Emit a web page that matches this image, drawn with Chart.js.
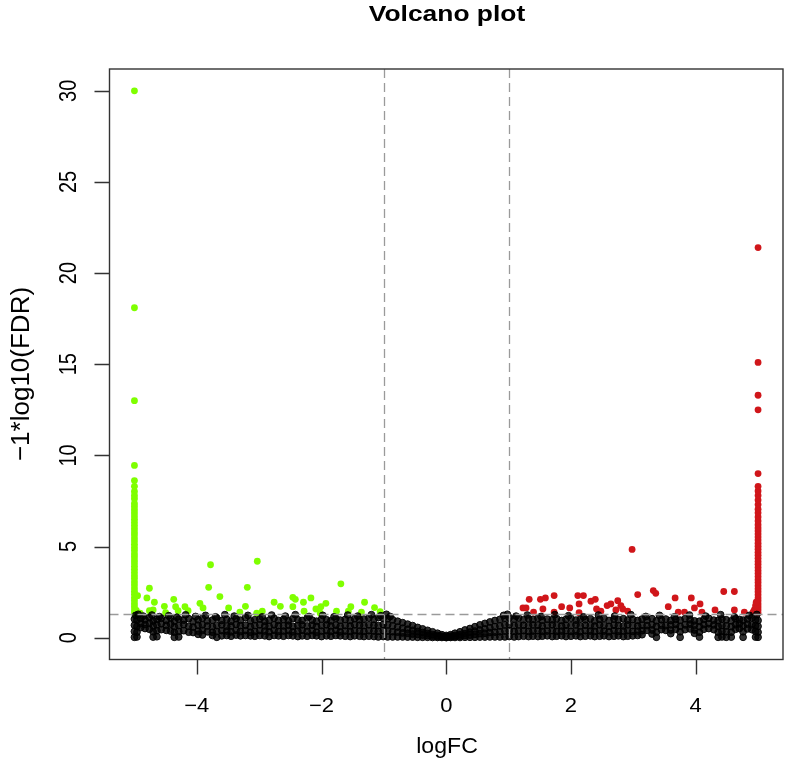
<!DOCTYPE html>
<html>
<head>
<meta charset="utf-8">
<title>Volcano plot</title>
<script src="https://cdn.jsdelivr.net/npm/chart.js@4.4.1/dist/chart.umd.min.js"></script>
<style>
  html, body { margin: 0; padding: 0; background: #ffffff; }
  #volcano { display: block; }
</style>
</head>
<body>
<canvas id="volcano" width="788" height="775"></canvas>
<script>
// --- data ------------------------------------------------------------------

// tick labels
const xTicks = [-4, -2, 0, 2, 4];
const yTicks = [0, 5, 10, 15, 20, 25, 30];

// cut-offs (|logFC| = 1, FDR = 0.05)
const fcCut = 1;
const fdrLine = 1.3;

// non-significant genes: one column of x, four layers of y (null = empty)
const nsX = [
  -5.00, -4.96, -4.90, -4.83, -4.76, -4.70, -4.64, -4.57, -4.49, -4.42, -4.36, -4.29, -4.21, -4.13,
  -4.06, -3.98, -3.91, -3.83, -3.75, -3.68, -3.60, -3.52, -3.45, -3.37, -3.30, -3.22, -3.14, -3.07,
  -2.99, -2.91, -2.84, -2.76, -2.69, -2.61, -2.53, -2.46, -2.38, -2.31, -2.23, -2.15, -2.08, -2.00,
  -1.92, -1.85, -1.77, -1.70, -1.62, -1.54, -1.47, -1.39, -1.32, -1.24, -1.16, -1.09, -1.01, -0.94,
  -0.86, -0.78, -0.70, -0.62, -0.54, -0.46, -0.38, -0.30, -0.22, -0.14, -0.07, 0.00,
  0.07, 0.14, 0.22, 0.30, 0.38, 0.46, 0.54, 0.62, 0.70, 0.78, 0.86,
  0.94, 1.01, 1.09, 1.16, 1.24, 1.32, 1.39, 1.47, 1.54, 1.62, 1.70, 1.77, 1.85, 1.92,
  2.00, 2.08, 2.15, 2.23, 2.31, 2.38, 2.46, 2.53, 2.61, 2.69, 2.76, 2.84, 2.91, 2.99,
  3.07, 3.14, 3.22, 3.30, 3.37, 3.45, 3.52, 3.60, 3.68, 3.75, 3.83, 3.91, 3.98, 4.06,
  4.13, 4.21, 4.29, 4.36, 4.42, 4.49, 4.57, 4.64, 4.70, 4.76, 4.83, 4.90, 4.96, 5.00
];
const nsLow = [
  0.02, 0.04, null, null, null, 0.03, 0.05, null, null, null, 0.02, 0.04, null, null,
  null, 0.18, 0.15, null, 0.12, 0.02, 0.10, 0.12, 0.08, 0.14, 0.10, 0.12, 0.10, 0.08,
  0.12, 0.10, 0.06, 0.12, 0.10, 0.08, 0.12, 0.10, 0.06, 0.10, 0.08, 0.12, 0.10, 0.06,
  0.10, 0.08, 0.12, 0.10, 0.08, 0.06, 0.10, 0.08, 0.06, 0.08, 0.06, 0.04, 0.06, 0.04,
  0.04, 0.04, 0.04, 0.03, 0.03, 0.02, 0.02, 0.02, 0.01, 0.01, 0.01, 0.00,
  0.01, 0.01, 0.01, 0.02, 0.02, 0.02, 0.03, 0.03, 0.04, 0.04, 0.04,
  0.04, 0.06, 0.04, 0.06, 0.08, 0.06, 0.08, 0.06, 0.08, 0.10, 0.06, 0.08, 0.10, 0.06,
  0.08, 0.10, 0.06, 0.08, 0.10, 0.06, 0.08, 0.10, 0.06, 0.08, 0.10, 0.06, 0.08, 0.10,
  0.12, 0.16, null, 0.20, 0.02, null, null, 0.22, null, 0.02, null, null, 0.24, 0.03,
  null, null, null, 0.02, 0.04, 0.02, 0.03, null, null, 0.02, null, null, 0.03, 0.02
];
const nsMid = [
  0.34, 0.30, 0.55, 0.50, 0.46, 0.32, 0.38, 0.44, 0.40, 0.36, 0.30, 0.34, 0.38, 0.30,
  0.28, 0.36, 0.40, 0.32, 0.30, 0.34, 0.38, 0.36, 0.32, 0.40, 0.34, 0.38, 0.30, 0.34,
  0.38, 0.36, 0.32, 0.40, 0.34, 0.36, 0.38, 0.32, 0.36, 0.40, 0.34, 0.38, 0.30, 0.36,
  0.38, 0.34, 0.40, 0.32, 0.36, 0.34, 0.38, 0.36, 0.34, 0.38, 0.36, 0.34, 0.38, 0.36,
  0.32, 0.30, 0.26, 0.24, 0.20, 0.18, 0.14, 0.12, 0.08, 0.06, 0.04, 0.02,
  0.04, 0.06, 0.08, 0.12, 0.14, 0.18, 0.22, 0.24, 0.28, 0.30, 0.32,
  0.36, 0.38, 0.34, 0.36, 0.38, 0.34, 0.36, 0.38, 0.34, 0.36, 0.38, 0.34, 0.36, 0.38,
  0.34, 0.36, 0.32, 0.38, 0.36, 0.34, 0.38, 0.36, 0.32, 0.38, 0.34, 0.36, 0.38, 0.34,
  0.36, 0.38, 0.40, 0.42, 0.30, 0.44, 0.40, 0.42, 0.46, 0.32, 0.44, 0.48, 0.42, 0.30,
  0.46, 0.50, 0.44, 0.30, 0.34, 0.32, 0.30, 0.46, 0.50, 0.32, 0.48, 0.44, 0.34, 0.30
];
const nsUpper = [
  0.68, 0.62, 0.78, 0.72, 0.80, 0.64, 0.70, 0.76, 0.68, 0.74, 0.60, 0.66, 0.72, 0.62,
  0.58, 0.68, 0.70, 0.64, 0.60, 0.66, 0.70, 0.62, 0.64, 0.72, 0.66, 0.68, 0.60, 0.66,
  0.70, 0.64, 0.62, 0.70, 0.66, 0.64, 0.68, 0.62, 0.66, 0.70, 0.64, 0.68, 0.62, 0.66,
  0.70, 0.64, 0.68, 0.62, 0.66, 0.64, 0.70, 0.68, 0.66, 0.70, 0.68, 0.66, 0.72, 0.70,
  0.64, 0.58, 0.52, 0.46, 0.40, 0.34, 0.28, 0.22, 0.16, 0.12, 0.08, 0.06,
  0.08, 0.12, 0.16, 0.22, 0.30, 0.36, 0.42, 0.48, 0.54, 0.60, 0.64,
  0.70, 0.72, 0.66, 0.70, 0.68, 0.66, 0.70, 0.68, 0.64, 0.68, 0.70, 0.66, 0.64, 0.68,
  0.66, 0.70, 0.64, 0.68, 0.66, 0.64, 0.70, 0.66, 0.62, 0.68, 0.66, 0.64, 0.70, 0.66,
  0.64, 0.68, 0.66, 0.70, 0.62, 0.68, 0.66, 0.70, 0.72, 0.62, 0.70, 0.74, 0.68, 0.60,
  0.72, 0.76, 0.70, 0.62, 0.66, 0.64, 0.60, 0.72, 0.76, 0.64, 0.74, 0.70, 0.66, 0.62
];
const nsTop = [
  1.02, 0.96, 1.05, 0.98, 1.10, 0.92, 1.00, 1.06, 0.94, 1.08, 0.90, 1.02, 0.96, 1.04,
  0.88, 0.98, 1.06, 0.92, 0.96, 1.08, 0.94, 1.00, 0.90, 1.04, 0.96, 1.10, 0.92, 0.98,
  1.02, 0.90, 0.96, 1.06, 0.94, 1.00, 0.92, 1.04, 0.98, 0.94, 1.08, 0.96, 0.90, 1.02,
  0.98, 0.92, 1.06, 0.96, 1.00, 0.94, 1.04, 0.98, 1.02, 1.08, 1.00, 1.10, 1.06, 1.04,
  0.98, 0.90, 0.82, 0.74, 0.66, 0.56, 0.48, 0.40, 0.32, 0.24, 0.16, 0.12,
  0.16, 0.24, 0.32, 0.42, 0.50, 0.60, 0.70, 0.78, 0.86, 0.94, 1.00,
  1.06, 1.10, 1.02, 1.08, 0.98, 1.04, 1.00, 1.06, 0.96, 1.02, 0.98, 1.04, 0.94, 1.00,
  1.06, 0.96, 1.02, 0.98, 1.04, 0.92, 1.00, 1.06, 0.94, 1.02, 0.98, 1.04, 0.96, 1.00,
  0.94, 1.02, 0.96, 1.04, 0.92, 0.98, 1.02, 0.94, 1.00, 0.96, 1.04, 0.98, 0.92, 0.90,
  1.00, 1.06, 0.96, 0.94, 1.02, 0.98, 0.92, 1.04, 1.00, 0.96, 1.02, 1.08, 0.98, 0.94
];
// stray non-significant genes just under the FDR line
const nsStrayX = [
  -4.98, -4.94, -4.86, -4.72, -4.60, -4.45, -4.32, -4.18, -4.02, -3.86, -3.70, -3.55, -3.40, -3.18,
  -2.95, -2.80, -2.58, -2.42, -2.20, -1.98, -1.80, -1.58, -1.42, -1.20, -1.05, -0.96, -0.90,
  0.92, 0.98, 1.12, 1.30, 1.52, 1.74, 1.96, 2.20, 2.44, 2.70, 2.96, 3.20, 3.42, 3.66, 3.90,
  4.16, 4.40, 4.62, 4.86, 4.98
];
const nsStrayY = [
  1.22, 1.28, 1.18, 1.24, 1.15, 1.20, 1.12, 1.25, 1.16, 1.22, 1.14, 1.26, 1.18, 1.22,
  1.14, 1.24, 1.18, 1.26, 1.16, 1.22, 1.14, 1.24, 1.18, 1.26, 1.20, 1.28, 1.16,
  1.22, 1.28, 1.18, 1.24, 1.16, 1.26, 1.20, 1.14, 1.24, 1.18, 1.26, 1.16, 1.22, 1.14, 1.24,
  1.18, 1.26, 1.14, 1.22, 1.27
];

// down-regulated (green)
const downX = [
  -5.00, -5.00, -5.00, -5.00, -5.00, -5.00, -5.00, -5.00, -5.00, -5.00, -5.00, -5.00, -5.00, -5.00, -5.00,
  -5.00, -5.00, -5.00, -5.00, -5.00, -5.00, -5.00, -5.00, -5.00, -5.00, -5.00, -5.00, -5.00, -5.00, -5.00,
  -5.00, -5.00, -5.00, -5.00, -5.00, -5.00, -5.00, -5.00, -5.00, -5.00, -5.00, -5.00, -5.00, -5.00, -5.00,
  -4.97, -4.95, -4.91, -4.80, -4.76, -4.76, -4.70, -4.68, -4.52, -4.50, -4.37, -4.34, -4.30, -4.19, -4.14,
  -3.95, -3.90, -3.81, -3.78, -3.63, -3.49, -3.31, -3.22, -3.19, -3.04, -3.03, -2.95, -2.76, -2.66,
  -2.46, -2.46, -2.42, -2.29, -2.28, -2.17, -2.09, -2.02, -2.01, -1.93, -1.76, -1.69, -1.57, -1.53,
  -1.36, -1.31, -1.15, -1.06
];
const downY = [
  1.35, 1.52, 1.70, 1.86, 2.04, 2.20, 2.38, 2.55, 2.72, 2.90, 3.06, 3.24, 3.40, 3.58, 3.75,
  3.92, 4.10, 4.26, 4.44, 4.60, 4.78, 4.95, 5.12, 5.30, 5.46, 5.64, 5.80, 5.98, 6.15, 6.32,
  6.50, 6.68, 6.85, 7.02, 7.20, 7.36, 7.62, 7.80, 8.02, 8.30, 8.62, 9.45, 13.0, 18.1, 30.0,
  1.50, 2.30, 1.34, 2.18, 2.71, 1.48, 1.52, 1.94, 1.72, 1.37, 2.10, 1.70, 1.48, 1.70, 1.48,
  1.88, 1.63, 2.76, 4.00, 2.25, 1.63, 1.40, 1.72, 2.76, 1.34, 4.19, 1.45, 1.94, 1.72,
  2.21, 1.70, 2.10, 1.94, 1.45, 2.18, 1.57, 1.34, 1.70, 1.88, 1.45, 2.95, 1.45, 1.70,
  1.40, 1.94, 1.65, 1.43
];

// up-regulated (red)
const upX = [
  5.00, 5.00, 5.00, 5.00, 5.00, 5.00, 5.00, 5.00, 5.00, 5.00, 5.00, 5.00, 5.00, 5.00, 5.00,
  5.00, 5.00, 5.00, 5.00, 5.00, 5.00, 5.00, 5.00, 5.00, 5.00, 5.00, 5.00, 5.00, 5.00, 5.00,
  5.00, 5.00, 5.00, 5.00, 5.00, 5.00, 5.00, 5.00, 5.00, 5.00, 5.00, 5.00, 5.00, 5.00,
  1.23, 1.28, 1.33, 1.40, 1.51, 1.55, 1.59, 1.73, 1.73, 1.85, 1.98, 2.11, 2.13, 2.13, 2.20,
  2.32, 2.39, 2.41, 2.48, 2.58, 2.64, 2.72, 2.75, 2.80, 2.83, 2.91, 2.98, 3.07, 3.32, 3.36,
  3.56, 3.67, 3.72, 3.82, 3.93, 3.98, 4.07, 4.10, 4.31, 4.45, 4.62, 4.62, 4.78, 4.92, 4.94,
  4.96, 4.97
];
const upY = [
  1.35, 1.52, 1.68, 1.85, 2.02, 2.18, 2.35, 2.52, 2.68, 2.85, 3.02, 3.18, 3.35, 3.52, 3.68,
  3.85, 4.02, 4.18, 4.35, 4.52, 4.68, 4.85, 5.02, 5.18, 5.35, 5.52, 5.68, 5.85, 6.02, 6.20,
  6.40, 6.62, 6.85, 7.05, 7.30, 7.55, 7.80, 8.05, 8.30, 9.00, 12.5, 13.3, 15.1, 21.4,
  1.63, 1.63, 2.10, 1.40, 2.10, 1.57, 2.18, 2.31, 1.40, 1.70, 1.63, 2.31, 1.85, 1.37, 2.31,
  2.00, 2.10, 1.57, 1.45, 1.76, 1.85, 1.52, 2.03, 1.76, 1.57, 1.45, 4.84, 2.36, 2.58, 2.43,
  1.70, 2.18, 1.40, 1.40, 2.18, 1.63, 1.85, 1.40, 1.52, 2.53, 2.53, 1.52, 1.40, 1.40, 1.52,
  1.75, 1.94
];

// --- build point lists ------------------------------------------------------

function pairs(xs, ys) {
  const out = [];
  for (let i = 0; i < xs.length; i++) {
    if (ys[i] !== null) out.push({ x: xs[i], y: ys[i] });
  }
  return out;
}

const nsPoints = [].concat(
  pairs(nsX, nsLow), pairs(nsX, nsMid), pairs(nsX, nsUpper), pairs(nsX, nsTop),
  pairs(nsStrayX, nsStrayY)
);

// R-like frame: box, ticks, labels, cut-off lines
const BOX = '#333333';
const FONT = '"Liberation Sans", Arial, Helvetica, sans-serif';

function stretchText(ctx, text, x, y, font, sx, rotate, align, baseline) {
  ctx.save();
  ctx.translate(x, y);
  ctx.scale(sx, 1);
  if (rotate) ctx.rotate(-Math.PI / 2);
  ctx.font = font;
  ctx.fillStyle = '#000000';
  ctx.textAlign = align || 'center';
  ctx.textBaseline = baseline || 'alphabetic';
  ctx.fillText(text, 0, 0);
  ctx.restore();
}

const frame = {
  id: 'rFrame',
  afterDatasetsDraw(chart) {
    const ctx = chart.ctx;
    const a = chart.chartArea;
    const xs = chart.scales.x;
    const ys = chart.scales.y;

    // dashed cut-off lines (drawn over the points like abline)
    ctx.save();
    ctx.strokeStyle = '#9a9a9a';
    ctx.lineWidth = 1.3;
    ctx.setLineDash([9, 5]);
    ctx.beginPath();
    [-fcCut, fcCut].forEach(v => {
      const px = Math.round(xs.getPixelForValue(v)) + 0.5;
      ctx.moveTo(px, a.top);
      ctx.lineTo(px, a.bottom);
    });
    const py = Math.round(ys.getPixelForValue(fdrLine)) + 0.5;
    ctx.moveTo(a.left, py);
    ctx.lineTo(a.right, py);
    ctx.stroke();
    ctx.restore();
  },
  afterDraw(chart) {
    const ctx = chart.ctx;
    const a = chart.chartArea;
    const xs = chart.scales.x;
    const ys = chart.scales.y;

    ctx.save();
    ctx.strokeStyle = BOX;
    ctx.lineWidth = 1.4;
    ctx.strokeRect(a.left, a.top, a.right - a.left, a.bottom - a.top);

    ctx.beginPath();
    xTicks.forEach(v => {
      const px = Math.round(xs.getPixelForValue(v)) + 0.5;
      ctx.moveTo(px, a.bottom);
      ctx.lineTo(px, a.bottom + 15);
    });
    yTicks.forEach(v => {
      const py = Math.round(ys.getPixelForValue(v)) + 0.5;
      ctx.moveTo(a.left, py);
      ctx.lineTo(a.left - 15, py);
    });
    ctx.stroke();
    ctx.restore();

    xTicks.forEach(v => {
      const label = v < 0 ? '\u2212' + Math.abs(v) : String(v);
      stretchText(ctx, label, xs.getPixelForValue(v), 712, '20px ' + FONT, 1.1);
    });
    yTicks.forEach(v => {
      stretchText(ctx, String(v), 76, ys.getPixelForValue(v), '20px ' + FONT, 1.15, true);
    });

    stretchText(ctx, 'Volcano plot', 447, 21, 'bold 22px ' + FONT, 1.2);
    stretchText(ctx, 'logFC', 447, 753, '22px ' + FONT, 1.05);
    stretchText(ctx, '\u22121*log10(FDR)', 29, 374, '26px ' + FONT, 1.0, true);
  }
};

new Chart(document.getElementById('volcano'), {
  type: 'scatter',
  data: {
    datasets: [
      {
        label: 'not significant',
        data: nsPoints,
        backgroundColor: 'rgba(0, 0, 0, 0.8)',
        borderColor: 'rgba(0, 0, 0, 0.9)',
        borderWidth: 1,
        pointRadius: 3.4
      },
      {
        label: 'down',
        data: pairs(downX, downY),
        backgroundColor: '#7fff00',
        borderColor: '#7fff00',
        borderWidth: 0,
        pointRadius: 3.4
      },
      {
        label: 'up',
        data: pairs(upX, upY),
        backgroundColor: '#d0161a',
        borderColor: '#d0161a',
        borderWidth: 0,
        pointRadius: 3.4
      }
    ]
  },
  options: {
    responsive: false,
    animation: false,
    events: [],
    layout: { padding: { left: 109.5, top: 69, right: 4.7, bottom: 115.5 } },
    plugins: {
      legend: { display: false },
      tooltip: { enabled: false },
      title: { display: false }
    },
    scales: {
      x: { type: 'linear', min: -5.4, max: 5.4, display: false },
      y: { type: 'linear', min: -1.2, max: 31.2, display: false }
    }
  },
  plugins: [frame]
});
</script>
</body>
</html>
